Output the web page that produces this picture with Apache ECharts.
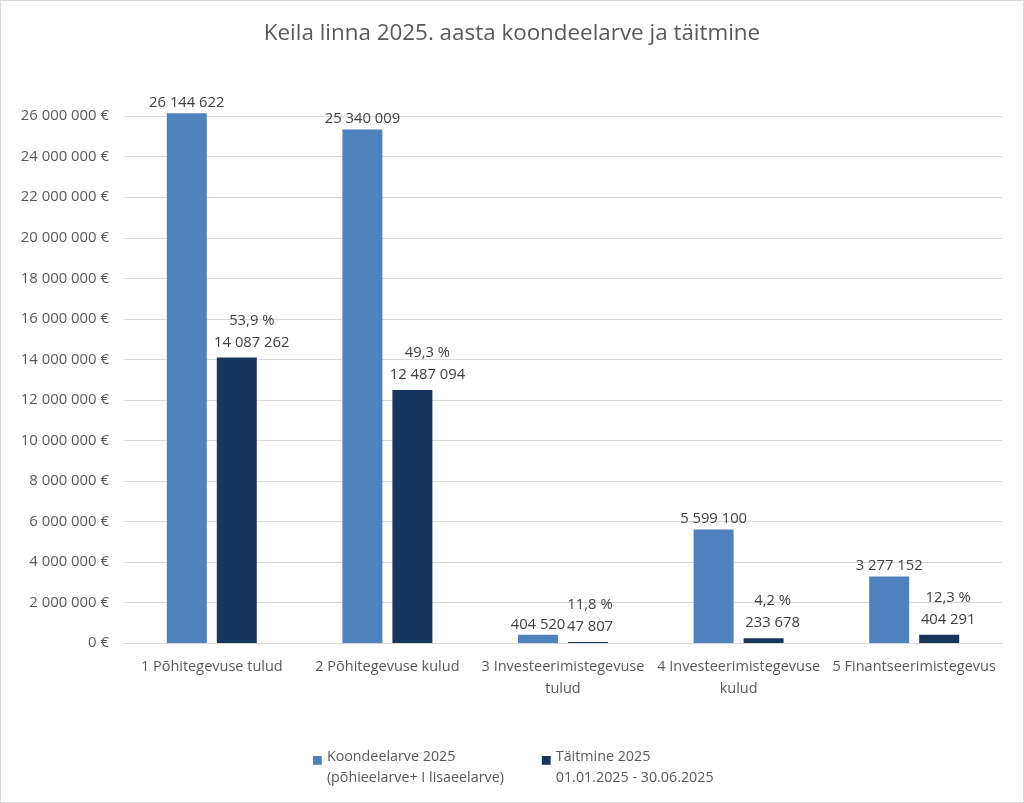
<!DOCTYPE html>
<html>
<head>
<meta charset="utf-8">
<script src="https://cdn.jsdelivr.net/npm/echarts@6/dist/echarts.min.js"></script>
<style>
  html, body { margin: 0; padding: 0; background: #fff; }
  #chart { width: 1022px; height: 801px; border: 1px solid #d9d9d9; }
</style>
</head>
<body>
<div id="chart"></div>
<script>
// andmed
var categories = [
  '1 Põhitegevuse tulud',
  '2 Põhitegevuse kulud',
  '3 Investeerimistegevuse\ntulud',
  '4 Investeerimistegevuse\nkulud',
  '5 Finantseerimistegevus'
];
var eelarve = [26144622, 25340009, 404520, 5599100, 3277152];
var taitmine = [14087262, 12487094, 47807, 233678, 404291];
var seriesNames = [
  'Koondeelarve 2025\n(põhieelarve+ I lisaeelarve)',
  'Täitmine 2025\n01.01.2025 - 30.06.2025'
];
// siltide nihe paremale (nagu Excelis käsitsi paigutatud)
var taitmineLabelShift = [15, 15, 2, 9, 9];

var font = 'Open Sans';

function fmt(v) {
  return String(Math.round(v)).replace(/\B(?=(\d{3})+(?!\d))/g, ' ');
}

var myChart = echarts.init(document.getElementById('chart'));

// ruut ainult esimese rea kõrgusel
var legendIcon = 'path://M0,0L10,0L10,10L0,10Z M0,25L0,25';

var option = {
  backgroundColor: '#fff',
  textStyle: { fontFamily: font },
  title: {
    text: 'Keila linna 2025. aasta koondeelarve ja täitmine',
    left: 'center',
    top: 17,
    textStyle: { fontFamily: font, fontSize: 22.4, fontWeight: 'normal', color: '#595959' }
  },
  legend: {
    bottom: 9,
    left: 307,
    itemWidth: 9,
    itemHeight: 22,
    itemGap: 38,
    icon: legendIcon,
    textStyle: { fontFamily: font, fontSize: 14.3, color: '#595959', lineHeight: 21 },
    data: seriesNames
  },
  grid: { left: 123, right: 21, top: 99, bottom: 159, containLabel: false },
  xAxis: {
    type: 'category',
    data: categories,
    axisTick: { show: false },
    axisLine: { lineStyle: { color: '#d9d9d9' } },
    axisLabel: { color: '#595959', fontSize: 14.5, fontFamily: font, lineHeight: 22, margin: 13, interval: 0 }
  },
  yAxis: {
    type: 'value',
    min: 0,
    max: 26800000,
    interval: 2000000,
    axisLine: { show: false },
    axisTick: { show: false },
    splitLine: { lineStyle: { color: '#d9d9d9' }, showMaxLine: false },
    axisLabel: {
      color: '#595959', fontSize: 14.9, fontFamily: font, margin: 15,
      showMaxLabel: false,
      formatter: function (v) { return fmt(v) + ' €'; }
    }
  },
  series: [
    {
      name: seriesNames[0],
      type: 'bar',
      data: eelarve,
      barWidth: 40,
      barGap: '25%',
      itemStyle: { color: '#4F81BD' },
      label: {
        show: true, position: 'top', distance: 3,
        color: '#404040', fontSize: 14.8, fontFamily: font,
        formatter: function (p) { return fmt(p.value); }
      }
    },
    {
      name: seriesNames[1],
      type: 'bar',
      data: taitmine.map(function (v, i) {
        return { value: v, label: { offset: [taitmineLabelShift[i], 0] } };
      }),
      barWidth: 40,
      itemStyle: { color: '#17365D' },
      label: {
        show: true, position: 'top', distance: 4,
        color: '#404040', fontSize: 14.8, fontFamily: font, lineHeight: 22,
        formatter: function (p) {
          var pct = (p.value / eelarve[p.dataIndex] * 100).toFixed(1).replace('.', ',');
          return pct + ' %\n' + fmt(p.value);
        }
      }
    }
  ]
};

myChart.setOption(option);
</script>
</body>
</html>
